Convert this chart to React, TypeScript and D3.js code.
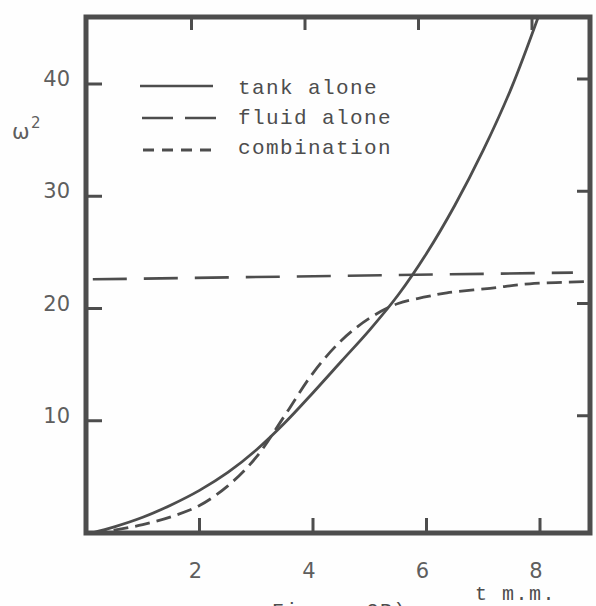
import React from "react";
import * as d3 from "d3";

// ---- data ----
const tankT = [0.1, 0.5, 1.0, 1.5, 2.0, 2.5, 3.0, 3.5, 4.0, 4.5, 5.0, 5.5, 6.0, 6.5, 7.0, 7.5, 8.0];
const tankW = [0, 0.55, 1.4, 2.5, 3.8, 5.4, 7.4, 9.8, 12.5, 15.3, 18.1, 21.2, 24.9, 29.2, 34.1, 39.7, 46.4];

const fluidT = [0.12, 8.58];
const fluidW = [22.6, 23.2];

const combT = [0.1, 0.5, 1.0, 1.5, 2.0, 2.5, 3.0, 3.5, 4.0, 4.5, 5.0, 5.5, 6.0, 6.36, 7.12, 7.82, 8.88];
const combW = [0, 0.25, 0.75, 1.45, 2.45, 4.2, 6.75, 10.45, 14.25, 17.15, 19.15, 20.45, 21.05, 21.4, 21.8, 22.2, 22.4];

const xTicks = [2, 4, 6, 8];
const yTicks = [10, 20, 30, 40];
const legendLabels = ["tank alone", "fluid alone", "combination"];
const xTitle = "t m.m.";
const caption = "Figure 2B)";

const INK = "#4d4d4d";

export default function App() {
  const left = 86, right = 590, top = 17, bottom = 533;
  const x = d3.scaleLinear().domain([0, 8]).range([left, 540]);
  const y = d3.scaleLinear().domain([0, 40]).range([bottom, 84]);

  const line = d3
    .line<[number, number]>()
    .x((d) => x(d[0]))
    .y((d) => y(d[1]))
    .curve(d3.curveCatmullRom.alpha(0.5));
  const straight = d3
    .line<[number, number]>()
    .x((d) => x(d[0]))
    .y((d) => y(d[1]));

  const tank = tankT.map((t, i) => [t, tankW[i]] as [number, number]);
  const fluid = fluidT.map((t, i) => [t, fluidW[i]] as [number, number]);
  const comb = combT.map((t, i) => [t, combW[i]] as [number, number]);

  const mono = "'Liberation Mono', 'DejaVu Sans Mono', monospace";
  const sans = "'DejaVu Sans', sans-serif";

  return (
    <div style={{ position: "absolute", left: 0, top: 0 }}>
      <svg width={596} height={606} style={{ display: "block", background: "#fefefe" }}>
        <defs>
          <clipPath id="plot">
            <rect x={left} y={top} width={right - left} height={bottom - top} />
          </clipPath>
        </defs>

        {/* curves */}
        <g clipPath="url(#plot)" fill="none" stroke={INK} strokeLinecap="butt">
          <path d={line(tank) || ""} strokeWidth={2.8} />
          <path d={straight(fluid) || ""} strokeWidth={2.6} strokeDasharray="34,17" />
          <path d={line(comb) || ""} strokeWidth={2.8} strokeDasharray="15,7" />
        </g>

        {/* frame */}
        <rect
          x={left}
          y={top}
          width={right - left}
          height={bottom - top}
          fill="none"
          stroke={INK}
          strokeWidth={5}
        />

        {/* ticks */}
        <g stroke={INK} strokeWidth={3}>
          {yTicks.map((v) => (
            <g key={"y" + v}>
              <line x1={left} x2={left + 16} y1={y(v)} y2={y(v)} />
              <line x1={right} x2={right - 13} y1={y(v) - 5} y2={y(v) - 5} />
            </g>
          ))}
          {xTicks.map((v) => (
            <g key={"x" + v}>
              <line x1={x(v)} x2={x(v)} y1={bottom} y2={bottom - 15} />
              <line x1={x(v) - 8} x2={x(v) - 8} y1={top} y2={top + 13} />
            </g>
          ))}
        </g>

        {/* y tick labels */}
        <g fontFamily={sans} fontSize={21} fill="#5e5e5e" textAnchor="end">
          {yTicks.map((v) => (
            <text key={"yl" + v} x={70} y={y(v) + 2}>
              {v}
            </text>
          ))}
        </g>
        {/* x tick labels */}
        <g fontFamily={sans} fontSize={21} fill="#5e5e5e" textAnchor="middle">
          {xTicks.map((v) => (
            <text key={"xl" + v} x={x(v) - 4} y={578}>
              {v}
            </text>
          ))}
        </g>

        {/* axis titles */}
        <text x={12} y={139} fontFamily={sans} fontSize={21} fill="#5e5e5e">
          ω
        </text>
        <text x={31} y={128} fontFamily={sans} fontSize={15} fill="#5e5e5e">
          2
        </text>
        <text x={475} y={600} fontFamily={mono} fontSize={20} letterSpacing={1.5} fill={INK}>
          {xTitle}
        </text>
        <text x={272} y={617} fontFamily={mono} fontSize={20} letterSpacing={1.5} fill={INK}>
          {caption}
        </text>

        {/* legend */}
        <g stroke={INK} strokeWidth={2.6} fill="none">
          <line x1={140} x2={213} y1={86} y2={86} />
          <line x1={142} x2={218} y1={118} y2={118} strokeDasharray="31,12" />
          <line x1={143} x2={217} y1={150} y2={150} strokeDasharray="11,8" strokeWidth={2.8} />
        </g>
        <g fontFamily={mono} fontSize={21} letterSpacing={1.4} fill={INK}>
          {legendLabels.map((s, i) => (
            <text key={s} x={238} y={94 + i * 30}>
              {s}
            </text>
          ))}
        </g>
      </svg>
    </div>
  );
}
